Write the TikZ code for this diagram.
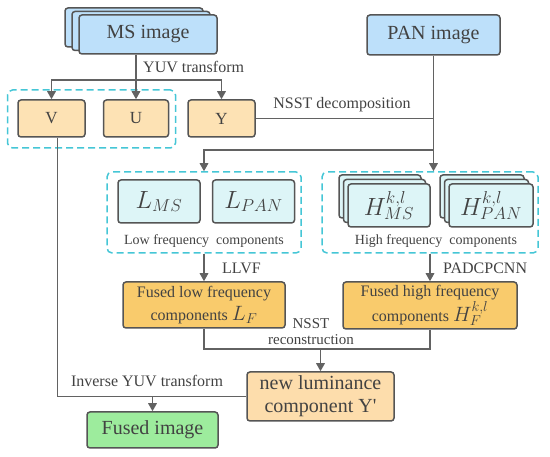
\documentclass[tikz,border=0pt]{standalone}
\usepackage{fontspec}
\setmainfont{Liberation Serif}
\usetikzlibrary{arrows.meta,positioning,calc,shadows}
\definecolor{edge}{RGB}{85,85,85}
\definecolor{wire}{RGB}{98,98,98}
\definecolor{ink}{RGB}{66,66,66}
\definecolor{skyfill}{RGB}{189,224,250}
\definecolor{creamfill}{RGB}{253,226,180}
\definecolor{icefill}{RGB}{221,245,247}
\definecolor{goldfill}{RGB}{249,203,108}
\definecolor{peachfill}{RGB}{253,221,172}
\definecolor{mintfill}{RGB}{157,236,157}
\definecolor{dashcyan}{RGB}{69,198,214}
\newcommand{\fsz}[2]{\fontsize{#1}{#2}\selectfont}
\tikzset{
  arr/.style={-{Triangle[length=8pt,width=8.5pt]},line width=1.6pt,draw=wire},
  link/.style={line width=1.6pt,draw=wire},
  box/.style={draw=edge,line width=1.5pt,rounded corners=3pt,inner sep=0pt,align=center,text=ink},
  imgbox/.style={box,fill=skyfill,minimum width=138pt,minimum height=39pt,font=\fsz{20}{24}},
  chan/.style={box,fill=creamfill,minimum width=66pt,minimum height=37pt,font=\fsz{17}{20}},
  band/.style={box,fill=icefill,minimum width=82pt,minimum height=43pt,font=\fsz{24}{28}},
  fuse/.style={box,fill=goldfill,font=\fsz{16}{23}},
  grp/.style={draw=dashcyan,dash pattern=on 7pt off 4pt,line width=1.5pt,rounded corners=5pt,inner sep=0pt},
  lab/.style={font=\fsz{16}{15},text=ink,inner sep=0pt,align=center},
  stackA/.style={double copy shadow={shadow xshift=-7pt,shadow yshift=3.5pt,fill=skyfill,draw=edge,line width=1.5pt}},
  stackB/.style={double copy shadow={shadow xshift=-4.5pt,shadow yshift=4.5pt,fill=icefill,draw=edge,line width=1.5pt}}
}
\begin{document}
\begin{tikzpicture}[x=1pt,y=-1pt]
  \useasboundingbox (0,0) rectangle (550,457);
  % source images
  \node[imgbox,stackA] (ms) at (148,34.5) {MS image};
  \node[imgbox,minimum width=133pt,minimum height=40pt] (pan) at (433.5,35) {PAN image};
  % YUV channels
  \node[chan,minimum width=67pt] (v) at (51.5,118.5) {V};
  \node[chan,minimum width=65pt,right=17pt of v] (u) {U};
  \node[chan,minimum width=67pt,right=18pt of u] (y) {Y};
  \node[grp,minimum width=168pt,minimum height=58pt] (chgrp) at (91.5,119) {};
  \node[lab,anchor=west] (yuvlab) at (143,67) {YUV transform};
  \node[lab] (declab) at (342,105) {NSST decomposition};
  % NSST sub-bands
  \node[grp,minimum width=194pt,minimum height=81pt] (lowgrp) at (204,212.5) {};
  \node[grp,minimum width=216pt,minimum height=81pt] (highgrp) at (430,212.5) {};
  \node[band] (lms) at (159,201.5) {$L_{MS}$};
  \node[band,right=11pt of lms] (lpan) {$L_{PAN}$};
  \node[band,stackB] (hms) at (389,205.5) {$H_{MS}^{k,l}$};
  \node[band,stackB,minimum width=84pt] (hpan) at (491,205.5) {$H_{PAN}^{k,l}$};
  \node[lab,font=\fsz{14}{16}] (lowlab) at (204,241) {Low frequency\ \ components};
  \node[lab,font=\fsz{14}{16}] (highlab) at (436,241) {High frequency\ \ components};
  % fusion
  \node[fuse,minimum width=162pt,minimum height=46pt] (fuselow) at (204,305) {Fused low frequency\\components {\fsz{20}{23}$L_F$}};
  \node[fuse,minimum width=174pt,minimum height=47pt] (fusehigh) at (430,305.5) {Fused high frequency\\components {\fsz{20}{23}$H_F^{k,l}$}};
  \node[lab,anchor=west] (llvflab) at (222,268) {LLVF};
  \node[lab,anchor=west] (pcnnlab) at (443,268) {PADCPCNN};
  \node[lab,font=\fsz{15}{16}] (reclab) at (311,331.5) {NSST\\reconstruction};
  \node[box,fill=peachfill,minimum width=147pt,minimum height=49pt,font=\fsz{20}{23}] (newlum) at (320.5,396.5) {new luminance\\component Y\textquotesingle};
  \node[box,fill=mintfill,minimum width=131pt,minimum height=36pt,font=\fsz{20}{24}] (fusedimg) at (152.5,430) {Fused image};
  \node[lab] (invlab) at (147,381) {Inverse YUV transform};
  % connectors
  \coordinate (fork) at (134.5,80);
  \coordinate (split) at (433.5,150);
  \coordinate (merge) at (320.5,349);
  \draw[arr] (u |- ms.south) -- (u.north);
  \draw[arr] (fork) -| (v.north);
  \draw[arr] (fork) -| (y.north);
  \draw[link] (y.east) -- (y.east -| pan.south);
  \draw[arr] (pan.south) -- (pan.south |- highgrp.north);
  \draw[arr] (split) -| (lowgrp.north);
  \draw[arr] (lowgrp.south) -- (fuselow.north);
  \draw[arr] (highgrp.south) -- (fusehigh.north);
  \draw[link] (fuselow.south) |- (merge) -| (fusehigh.south);
  \draw[arr] (merge) -- (newlum.north);
  \draw[link] ([xshift=6pt]v.south) |- (newlum.west);
  \draw[arr] (fusedimg.north |- newlum.west) -- (fusedimg.north);
\end{tikzpicture}
\end{document}
